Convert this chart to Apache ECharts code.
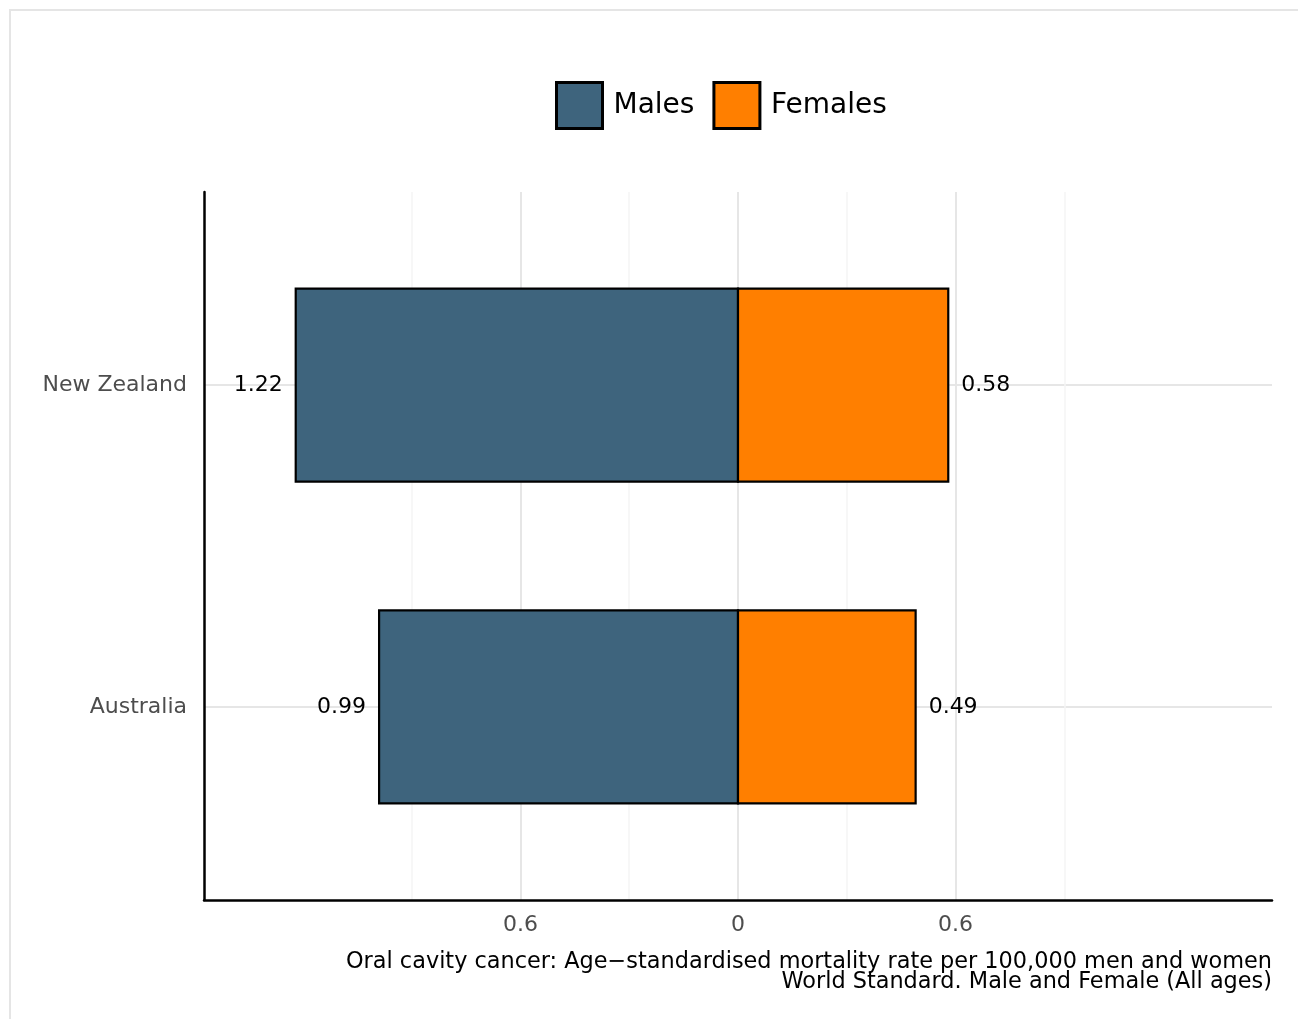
<!DOCTYPE html>
<html>
<head>
<meta charset="utf-8">
<script src="https://cdn.jsdelivr.net/npm/echarts@6/dist/echarts.min.js"></script>
<style>html,body{margin:0;padding:0;background:#fff}#c{width:1298px;height:1019px}</style>
</head>
<body>
<div id="c"></div>
<script>
const categories = ['Australia', 'New Zealand'];
const males = [0.99, 1.22];
const females = [0.49, 0.58];
const majorTicks = [-0.6, 0, 0.6];
const minorTicks = [-0.9, -0.3, 0.3, 0.9];
const captionLines = ['Oral cavity cancer: Age\u2212standardised mortality rate per 100,000 men and women', 'World Standard. Male and Female (All ages)'];

const FONT = 'DejaVu Sans';
const chart = echarts.init(document.getElementById('c'));

function barRender(side) {
  return function (params, api) {
    const idx = api.value(0);
    const v = api.value(1);
    const x0 = side < 0 ? -v : 0;
    const x1 = side < 0 ? 0 : v;
    const p0 = api.coord([x0, idx + 0.3]);
    const p1 = api.coord([x1, idx - 0.3]);
    const color = api.visual('color');
    const mid = api.coord([0, idx]);
    const lx = side < 0 ? p0[0] - 13 : p1[0] + 13;
    return {
      type: 'group',
      children: [
        { type: 'rect', shape: { x: p0[0], y: p0[1], width: p1[0] - p0[0], height: p1[1] - p0[1] },
          style: { fill: color, stroke: '#000', lineWidth: 2.2 } },
        { type: 'text', x: lx, y: mid[1],
          style: { text: v.toFixed(2), fill: '#000', font: '22px "' + FONT + '"',
                   align: side < 0 ? 'right' : 'left', verticalAlign: 'middle' } }
      ]
    };
  };
}

const option = {
  animation: false,
  backgroundColor: '#fff',
  textStyle: { fontFamily: FONT },
  legend: {
    left: 555, top: 81, padding: 0,
    itemWidth: 46, itemHeight: 46, itemGap: 18,
    icon: 'rect',
    itemStyle: { borderColor: '#000', borderWidth: 3 },
    textStyle: { fontSize: 28, color: '#000', fontFamily: FONT, padding: [0, 0, 0, 6] },
    data: ['Males', 'Females']
  },
  grid: { left: 204, right: 26, top: 192, bottom: 119, containLabel: false },
  xAxis: [
    {
      type: 'value', min: -1.473, max: 1.473, position: 'bottom',
      axisLine: { show: true, onZero: false, lineStyle: { color: '#000', width: 2.5 } },
      axisTick: { show: false, customValues: majorTicks },
      axisLabel: { customValues: majorTicks, color: '#4d4d4d', fontSize: 22, margin: 14,
                   formatter: v => String(Math.abs(v)) },
      splitLine: { show: true, lineStyle: { color: '#e6e6e6', width: 2 } }
    },
    {
      type: 'value', min: -1.473, max: 1.473, position: 'top',
      axisLine: { show: false }, axisLabel: { show: false },
      axisTick: { show: false, customValues: minorTicks },
      splitLine: { show: true, lineStyle: { color: '#f5f5f5', width: 1.5 } }
    }
  ],
  yAxis: {
    type: 'value', min: -0.6, max: 1.6,
    axisLine: { show: true, onZero: false, lineStyle: { color: '#000', width: 2.5 } },
    axisTick: { show: false, customValues: [0, 1] },
    axisLabel: { customValues: [0, 1], color: '#4d4d4d', fontSize: 22, margin: 17,
                 formatter: v => categories[Math.round(v)] },
    splitLine: { show: true, lineStyle: { color: '#e6e6e6', width: 2 } }
  },
  graphic: [
    { type: 'rect', shape: { x: 10, y: 10, width: 1400, height: 1100 },
      style: { fill: 'none', stroke: '#e5e5e5', lineWidth: 2 }, z: -10 },
    { type: 'text', right: 26, top: 951,
      style: { text: captionLines[0], fill: '#000', font: '22.4px "' + FONT + '"' } },
    { type: 'text', right: 26, top: 971,
      style: { text: captionLines[1], fill: '#000', font: '22.4px "' + FONT + '"' } }
  ],
  series: [
    { name: 'Males', type: 'custom', xAxisIndex: 0, renderItem: barRender(-1),
      itemStyle: { color: '#3e647d', borderColor: '#000', borderWidth: 2 },
      encode: { x: 1, y: 0 },
      data: males.map((v, i) => [i, v]) },
    { name: 'Females', type: 'custom', xAxisIndex: 0, renderItem: barRender(1),
      itemStyle: { color: '#ff7f00', borderColor: '#000', borderWidth: 2 },
      encode: { x: 1, y: 0 },
      data: females.map((v, i) => [i, v]) }
  ]
};
chart.setOption(option);
</script>
</body>
</html>
